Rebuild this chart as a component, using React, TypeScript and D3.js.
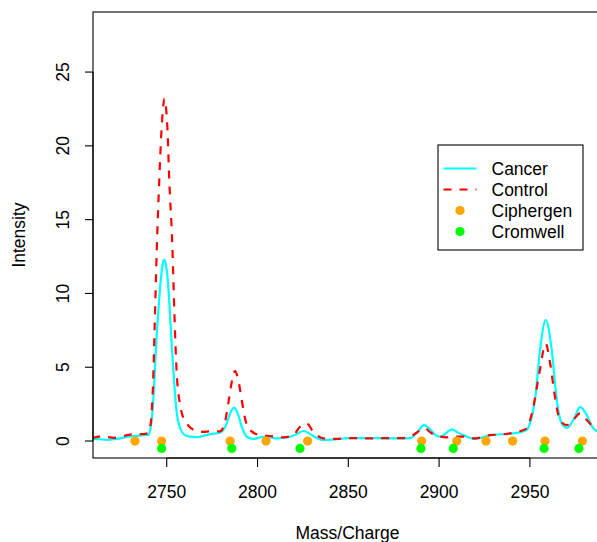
import React from "react";
import * as d3 from "d3";

const cancerMz = [2709, 2713, 2717, 2721, 2725, 2729, 2733, 2737, 2740, 2741, 2742.1, 2743, 2744.1, 2745.4, 2746.7, 2747.8, 2748.7, 2749.6, 2750.6, 2751.7, 2752.8, 2754.2, 2755.5, 2757.3, 2759, 2761, 2764, 2767, 2770, 2774, 2779.3, 2781.5, 2783, 2784.9, 2787.1, 2789.4, 2791.3, 2794.1, 2797.7, 2803.2, 2807, 2810.6, 2817.9, 2822, 2825.2, 2828, 2830.7, 2836.2, 2843.6, 2850, 2860, 2870, 2880, 2884, 2888, 2891.7, 2895, 2898, 2900.5, 2903.5, 2906.9, 2910, 2913.3, 2919.8, 2928, 2940.9, 2948.2, 2950.5, 2952.8, 2955.6, 2958.7, 2962, 2964.8, 2967.5, 2970.6, 2974.8, 2977.6, 2981.3, 2984.9, 2990];
const cancerIntensity = [0.15, 0.12, 0.08, 0.12, 0.2, 0.3, 0.35, 0.4, 0.42, 0.8, 1.9, 3.6, 6.4, 8.8, 10.9, 12.0, 12.3, 11.9, 10.9, 8.8, 6.4, 3.8, 1.9, 0.9, 0.5, 0.35, 0.28, 0.27, 0.35, 0.47, 0.56, 0.8, 1.2, 1.87, 2.26, 1.76, 0.97, 0.29, 0.14, 0.29, 0.25, 0.18, 0.29, 0.5, 0.68, 0.55, 0.34, 0.07, 0.12, 0.2, 0.2, 0.18, 0.18, 0.2, 0.6, 1.08, 0.8, 0.4, 0.29, 0.5, 0.79, 0.6, 0.4, 0.14, 0.4, 0.52, 0.75, 1.4, 2.78, 6.2, 8.2, 6.2, 2.78, 1.2, 0.9, 1.65, 2.32, 1.76, 0.86, 0.5];

const controlMz = [2709, 2713, 2717, 2721, 2725, 2729, 2733, 2737, 2740, 2741, 2741.7, 2742.5, 2743.3, 2744.5, 2745.9, 2747.1, 2747.8, 2748.7, 2749.6, 2750.3, 2751.4, 2753.1, 2754.2, 2755.5, 2757, 2758.3, 2761, 2763.5, 2766.7, 2770, 2774, 2779.3, 2782.1, 2783.9, 2785.8, 2787.6, 2789.4, 2791.3, 2793.1, 2795.8, 2801.4, 2806.9, 2814.2, 2819.7, 2823.4, 2827.1, 2830.7, 2836.2, 2843.6, 2850, 2860, 2870, 2880, 2884, 2888, 2892.2, 2895, 2897.7, 2904.2, 2908, 2913, 2919.8, 2928, 2935, 2940.9, 2948.2, 2951.5, 2955.2, 2958.7, 2961.1, 2963.8, 2966.5, 2970.2, 2973.8, 2977.6, 2981.3, 2985.8, 2990];
const controlIntensity = [0.2, 0.3, 0.28, 0.22, 0.3, 0.42, 0.47, 0.47, 0.55, 1.0, 1.9, 4.0, 7.5, 12.9, 17.7, 21.0, 22.3, 23.2, 22.6, 21.4, 17.7, 13.2, 8.7, 4.6, 2.7, 1.9, 1.2, 0.85, 0.7, 0.62, 0.65, 0.65, 1.3, 2.55, 4.0, 4.74, 4.13, 2.78, 1.54, 0.75, 0.4, 0.34, 0.25, 0.4, 0.97, 1.2, 0.63, 0.18, 0.15, 0.2, 0.18, 0.2, 0.2, 0.28, 0.6, 0.86, 0.6, 0.4, 0.25, 0.3, 0.3, 0.18, 0.4, 0.45, 0.56, 0.86, 2.1, 4.6, 6.6, 5.3, 3.0, 1.42, 1.08, 1.42, 1.88, 1.42, 0.86, 0.55];

const ciphergenMz = [2732.5, 2747.2, 2784.9, 2804.7, 2827.6, 2890.4, 2909.7, 2925.8, 2940.5, 2958.3, 2978.9];
const cromwellMz = [2747.2, 2785.8, 2823.4, 2890.0, 2907.8, 2957.8, 2977.0];
const ciphergenLevel = 0;
const cromwellLevel = -0.5;

const xTicks = [2750, 2800, 2850, 2900, 2950];
const yTicks = [0, 5, 10, 15, 20, 25];

const legendLabels = ["Cancer", "Control", "Ciphergen", "Cromwell"];

const FONT = "'Liberation Sans', Arial, Helvetica, sans-serif";

export default function App() {
  const W = 597, H = 542;
  const left = 93, right = 602, top = 12, bottom = 458;
  const x = d3.scaleLinear().domain([2709.4, 2989.7]).range([left, right]);
  const y = d3.scaleLinear().domain([-1.15, 29.07]).range([bottom, top]);

  const line = d3
    .line<[number, number]>()
    .x((d) => x(d[0]))
    .y((d) => y(d[1]))
    .curve(d3.curveMonotoneX);

  const cancerPts = cancerMz.map((m, i) => [m, cancerIntensity[i]] as [number, number]);
  const controlPts = controlMz.map((m, i) => [m, controlIntensity[i]] as [number, number]);

  const fs = 17.5;
  const tick = 9;

  const legX = 438, legY = 145, legW = 145, legH = 105;
  const rowY = [168.5, 189.5, 210.5, 231.5];

  return (
    <svg
      width={W}
      height={H}
      style={{ position: "absolute", left: 0, top: 0, background: "#fff" }}
      fontFamily={FONT}
    >
      <defs>
        <clipPath id="plotclip">
          <rect x={left} y={top} width={right - left} height={bottom - top} />
        </clipPath>
      </defs>
      <rect x={0} y={0} width={W} height={H} fill="#fff" />
      <g clipPath="url(#plotclip)">
        <path d={line(cancerPts) || ""} fill="none" stroke="#00FFFF" strokeWidth={2.2} strokeLinejoin="round" />
        <path d={line(controlPts) || ""} fill="none" stroke="#FF0000" strokeWidth={2.2} strokeDasharray="8,8" />
        {ciphergenMz.map((m, i) => (
          <circle key={"c" + i} cx={x(m)} cy={y(ciphergenLevel)} r={4.6} fill="#FFA500" />
        ))}
        {cromwellMz.map((m, i) => (
          <circle key={"w" + i} cx={x(m)} cy={y(cromwellLevel)} r={4.6} fill="#00FF00" />
        ))}
      </g>
      <rect x={left} y={top} width={right - left} height={bottom - top} fill="none" stroke="#000" strokeWidth={1.1} />
      {/* x axis */}
      <line x1={x(xTicks[0])} x2={x(xTicks[xTicks.length - 1])} y1={bottom} y2={bottom} stroke="#000" strokeWidth={1.1} />
      {xTicks.map((t) => (
        <g key={"xt" + t}>
          <line x1={x(t)} x2={x(t)} y1={bottom} y2={bottom + tick} stroke="#000" strokeWidth={1.1} />
          <text x={x(t)} y={497.5} fontSize={fs} textAnchor="middle" fill="#000">
            {t}
          </text>
        </g>
      ))}
      {/* y axis */}
      <line x1={left} x2={left} y1={y(yTicks[0])} y2={y(yTicks[yTicks.length - 1])} stroke="#000" strokeWidth={1.1} />
      {yTicks.map((t) => (
        <g key={"yt" + t}>
          <line x1={left - tick + 1} x2={left} y1={y(t)} y2={y(t)} stroke="#000" strokeWidth={1.1} />
          <text
            transform={`translate(${69},${y(t)}) rotate(-90)`}
            fontSize={fs}
            textAnchor="middle"
            fill="#000"
          >
            {t}
          </text>
        </g>
      ))}
      <text x={347.5} y={538.5} fontSize={fs} textAnchor="middle" fill="#000">
        Mass/Charge
      </text>
      <text transform={`translate(25,235) rotate(-90)`} fontSize={fs} textAnchor="middle" fill="#000">
        Intensity
      </text>
      {/* legend */}
      <rect x={legX} y={legY} width={legW} height={legH} fill="#fff" stroke="#000" strokeWidth={1.1} />
      <line x1={443.5} x2={476.5} y1={rowY[0]} y2={rowY[0]} stroke="#00FFFF" strokeWidth={2.2} />
      <line x1={443.5} x2={476.5} y1={rowY[1]} y2={rowY[1]} stroke="#FF0000" strokeWidth={2.2} strokeDasharray="8,8" />
      <circle cx={460} cy={rowY[2]} r={4.6} fill="#FFA500" />
      <circle cx={460} cy={rowY[3]} r={4.6} fill="#00FF00" />
      {legendLabels.map((l, i) => (
        <text key={l} x={491.5} y={rowY[i] + 6.3} fontSize={fs} fill="#000">
          {l}
        </text>
      ))}
    </svg>
  );
}
